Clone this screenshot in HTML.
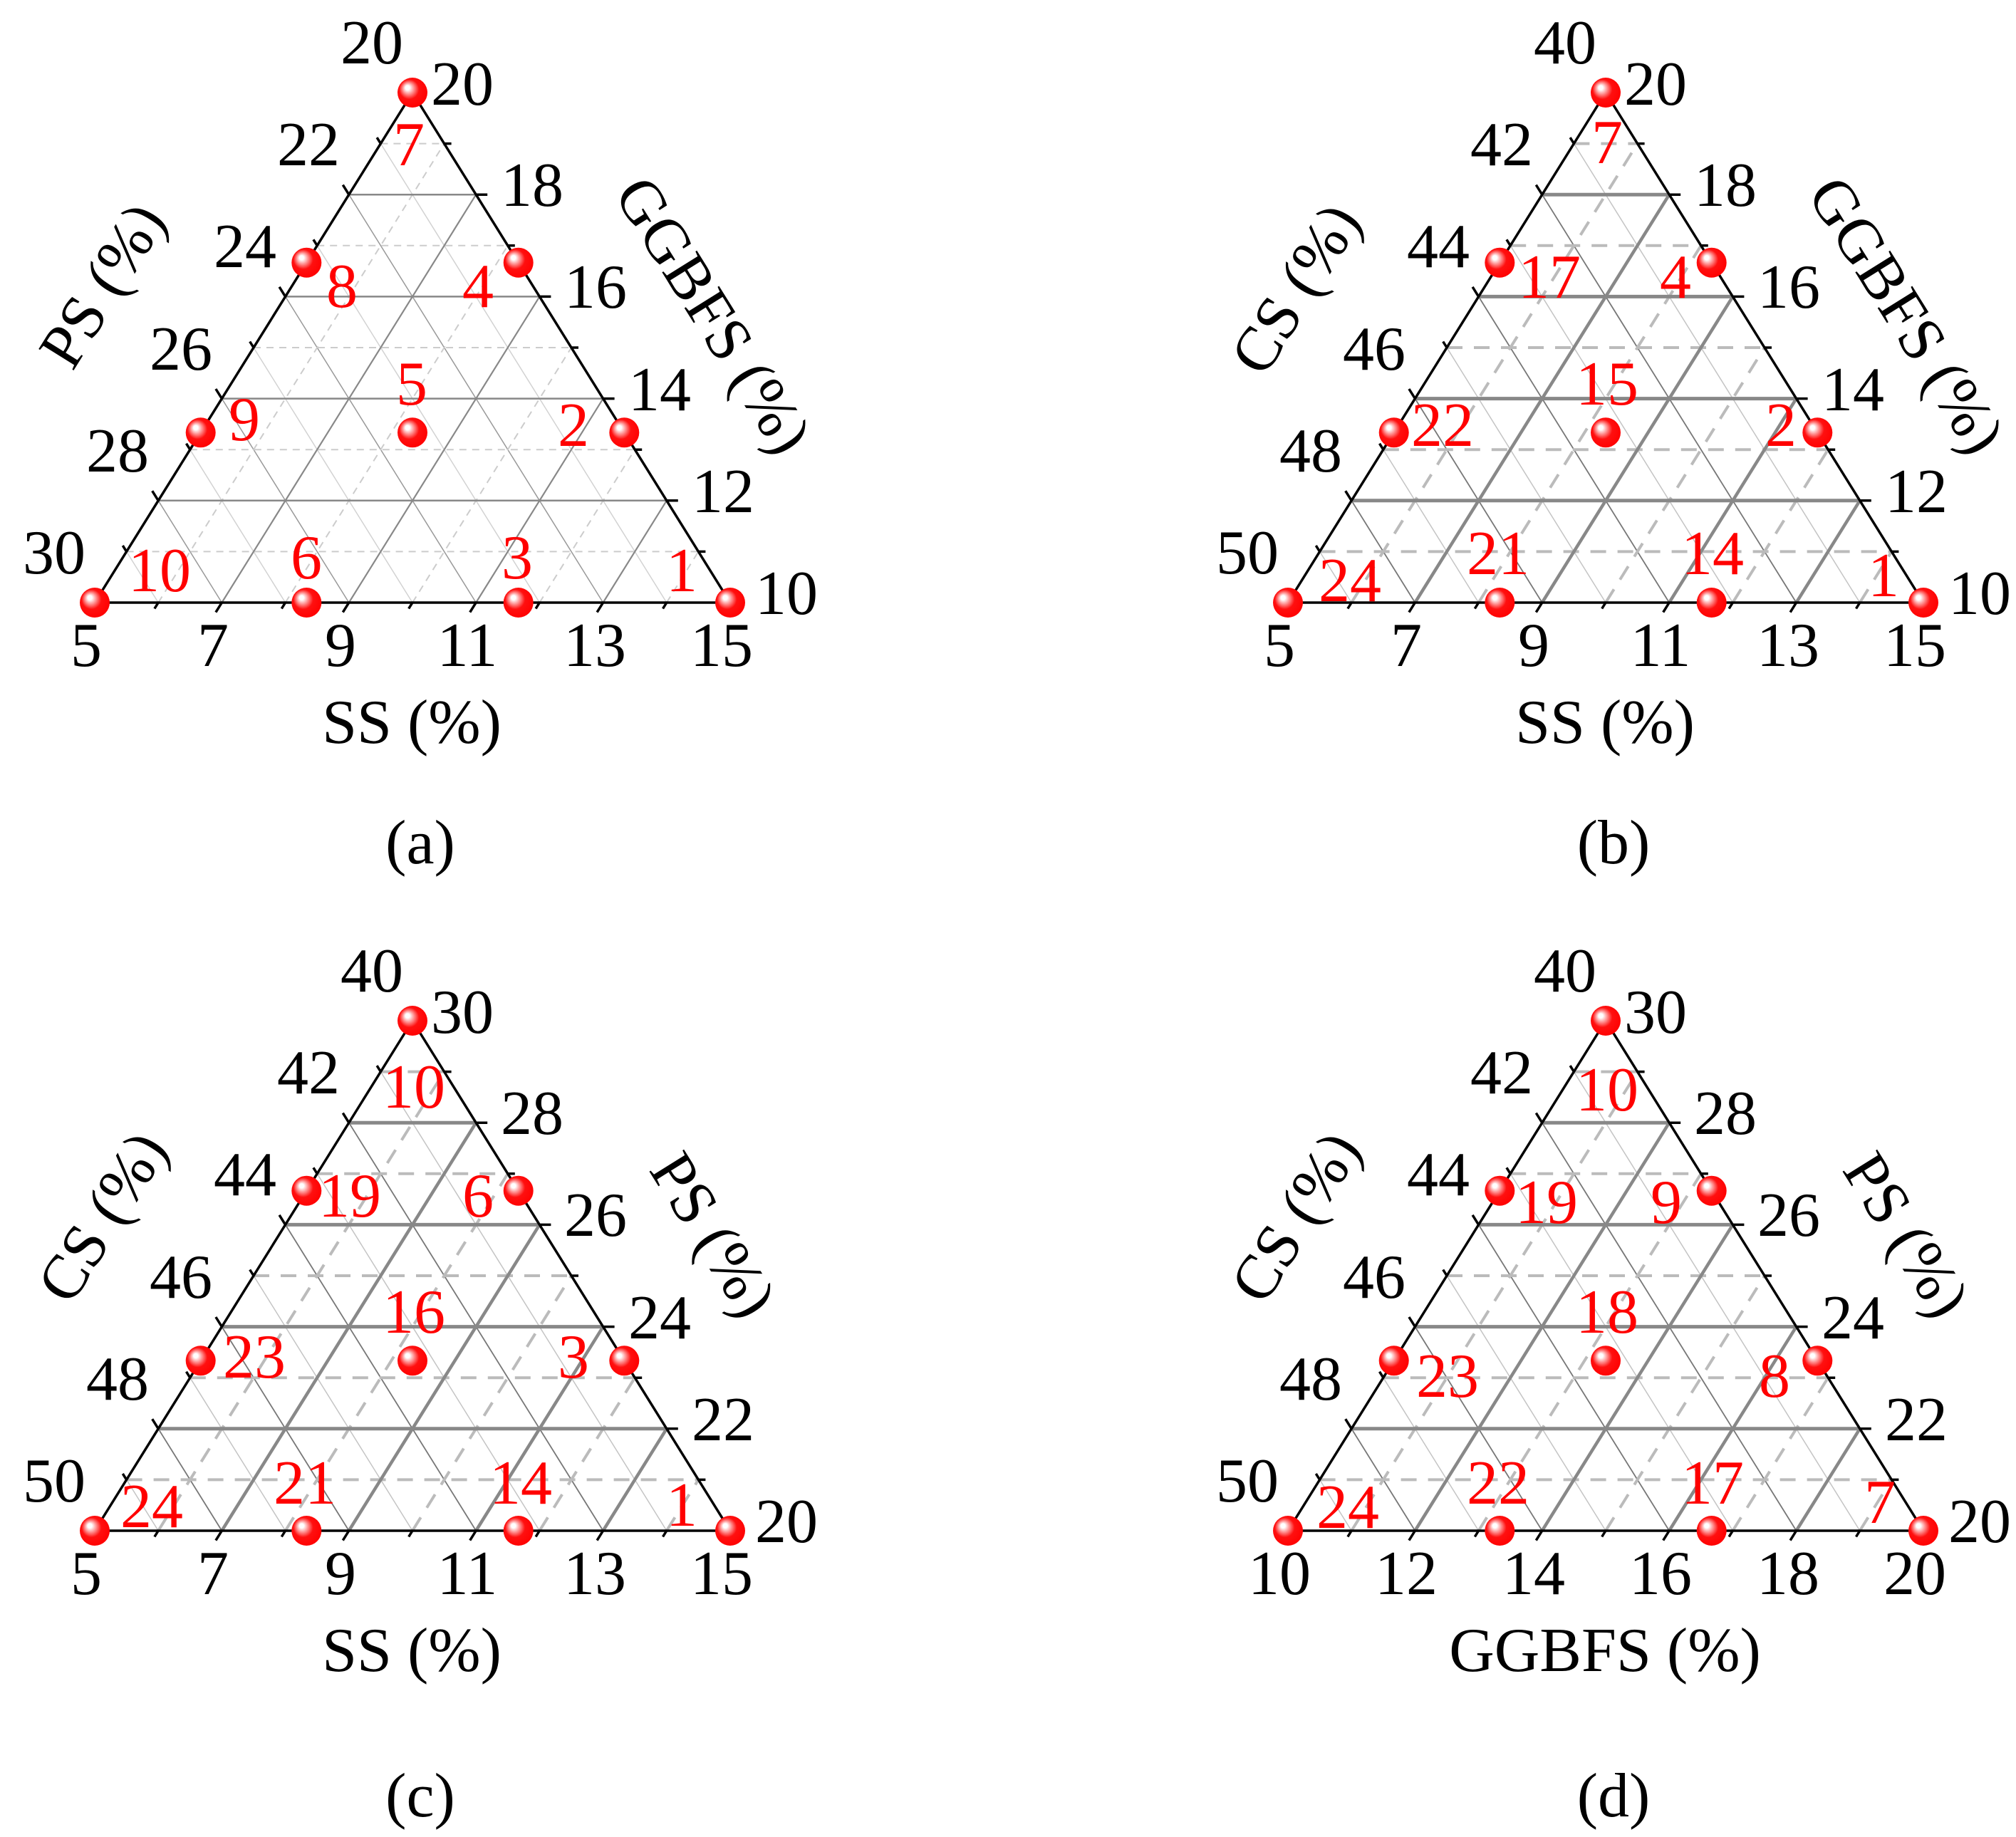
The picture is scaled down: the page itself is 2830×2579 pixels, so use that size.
<!DOCTYPE html>
<html><head><meta charset="utf-8"><style>
html,body{margin:0;padding:0;background:#fff;}
svg{display:block;}
text{font-family:"Liberation Serif",serif;font-size:88px;fill:#000;}
.r{fill:#f00;text-anchor:middle;}
.e{text-anchor:end;}
.m{text-anchor:middle;}
</style></head><body>
<svg width="2830" height="2579" viewBox="0 0 2830 2579" xmlns="http://www.w3.org/2000/svg">
<defs>
<radialGradient id="ball" cx="0.45" cy="0.45" r="0.6" fx="0.32" fy="0.32">
<stop offset="0" stop-color="#fff"/>
<stop offset="0.12" stop-color="#fff"/>
<stop offset="0.3" stop-color="#ff9a9a"/>
<stop offset="0.55" stop-color="#ff1010"/>
<stop offset="1" stop-color="#f00"/>
</radialGradient>
<path id="hMaj" fill="none" d="M222.2 702.8H935.8M311.4 559.6H846.6M400.6 416.4H757.4M489.8 273.2H668.2"/>
<path id="hMin" fill="none" d="M177.6 774.4H980.4M266.8 631.2H891.2M356 488H802M445.2 344.8H712.8M534.4 201.6H623.6"/>
<path id="rMaj" fill="none" d="M311.4 846L668.2 273.2M489.8 846L757.4 416.4M668.2 846L846.6 559.6M846.6 846L935.8 702.8"/>
<path id="rMin" fill="none" d="M222.2 846L623.6 201.6M400.6 846L712.8 344.8M579 846L802 488M757.4 846L891.2 631.2M935.8 846L980.4 774.4"/>
<path id="lMaj" fill="none" d="M311.4 846L222.2 702.8M489.8 846L311.4 559.6M668.2 846L400.6 416.4M846.6 846L489.8 273.2"/>
<path id="lMin" fill="none" d="M222.2 846L177.6 774.4M400.6 846L266.8 631.2M579 846L356 488M757.4 846L445.2 344.8M935.8 846L534.4 201.6"/>
<g id="frame" fill="none" stroke="#000" stroke-width="3.5">
<path d="M133 846L1025 846L579 130Z"/>
<path d="M133 846l-8.5 13.6M311.4 846l-8.5 13.6M489.8 846l-8.5 13.6M668.2 846l-8.5 13.6M846.6 846l-8.5 13.6M1025 846l-8.5 13.6M222.2 846l-5.3 8.5M400.6 846l-5.3 8.5M579 846l-5.3 8.5M757.4 846l-5.3 8.5M935.8 846l-5.3 8.5"/>
<path d="M1025 846h16M935.8 702.8h16M846.6 559.6h16M757.4 416.4h16M668.2 273.2h16M579 130h16M980.4 774.4h10M891.2 631.2h10M802 488h10M712.8 344.8h10M623.6 201.6h10"/>
<path d="M133 846l-8.5 -13.6M222.2 702.8l-8.5 -13.6M311.4 559.6l-8.5 -13.6M400.6 416.4l-8.5 -13.6M489.8 273.2l-8.5 -13.6M579 130l-8.5 -13.6M177.6 774.4l-5.3 -8.5M266.8 631.2l-5.3 -8.5M356 488l-5.3 -8.5M445.2 344.8l-5.3 -8.5M534.4 201.6l-5.3 -8.5"/>
</g>
<g id="gridB">
<use href="#lMin" stroke="#c4c4c4" stroke-width="1.5"/>
<use href="#lMaj" stroke="#777" stroke-width="1.8"/>
<use href="#hMin" stroke="#bbb" stroke-width="4" stroke-dasharray="22 16"/>
<use href="#rMin" stroke="#bbb" stroke-width="4" stroke-dasharray="22 16"/>
<use href="#hMaj" stroke="#888" stroke-width="5"/>
<use href="#rMaj" stroke="#888" stroke-width="4.5"/>
<use href="#frame"/>
</g>
<g id="dots" fill="url(#ball)">
<circle cx="579" cy="130" r="21"/><circle cx="133" cy="846" r="21"/><circle cx="1025" cy="846" r="21"/>
<circle cx="430.3" cy="368.7" r="21"/><circle cx="281.7" cy="607.3" r="21"/>
<circle cx="727.7" cy="368.7" r="21"/><circle cx="876.3" cy="607.3" r="21"/>
<circle cx="430.3" cy="846" r="21"/><circle cx="727.7" cy="846" r="21"/>
<circle cx="579" cy="607.3" r="21"/>
</g>
<g id="bottomSS">
<text class="m" x="121" y="935">5</text><text class="m" x="299" y="935">7</text><text class="m" x="478" y="935">9</text>
<text class="m" x="656" y="935">11</text><text class="m" x="835" y="935">13</text><text class="m" x="1013" y="935">15</text>
<text class="m" x="578" y="1043">SS (%)</text>
</g>
<g id="leftCS">
<text class="e" x="566" y="89">40</text><text class="e" x="477" y="232">42</text><text class="e" x="388" y="375">44</text>
<text class="e" x="298" y="519">46</text><text class="e" x="209" y="662">48</text><text class="e" x="120" y="805">50</text>
<text class="m" transform="translate(143 405) rotate(-58)" y="30">CS (%)</text>
</g>
<g id="rightPS">
<text x="605" y="147">30</text><text x="703" y="289">28</text><text x="792" y="432">26</text>
<text x="882" y="576">24</text><text x="971" y="719">22</text><text x="1060" y="862">20</text>
<text class="m" transform="translate(1002 430) rotate(58)" y="30">PS (%)</text>
</g>
<g id="rightGG">
<text x="605" y="147">20</text><text x="703" y="289">18</text><text x="792" y="432">16</text>
<text x="882" y="576">14</text><text x="971" y="719">12</text><text x="1060" y="862">10</text>
<text class="m" transform="translate(1002 442) rotate(58)" y="30">GGBFS (%)</text>
</g>
</defs>

<!-- Panel (a) -->
<g>
<use href="#lMin" stroke="#d2d2d2" stroke-width="1.5"/>
<use href="#lMaj" stroke="#999" stroke-width="1.5"/>
<use href="#hMin" stroke="#ccc" stroke-width="2" stroke-dasharray="10 8"/>
<use href="#rMin" stroke="#ccc" stroke-width="2" stroke-dasharray="10 8"/>
<use href="#hMaj" stroke="#888" stroke-width="2.5"/>
<use href="#rMaj" stroke="#888" stroke-width="2.2"/>
<use href="#frame"/>
<use href="#dots"/>
<use href="#bottomSS"/>
<use href="#rightGG"/>
<text class="e" x="566" y="89">20</text><text class="e" x="477" y="232">22</text><text class="e" x="388" y="375">24</text>
<text class="e" x="298" y="519">26</text><text class="e" x="209" y="662">28</text><text class="e" x="120" y="805">30</text>
<text class="m" transform="translate(143 400) rotate(-58)" y="30">PS (%)</text>
<text class="r" x="574" y="232">7</text><text class="r" x="480" y="431">8</text><text class="r" x="671" y="431">4</text>
<text class="r" x="578" y="568">5</text><text class="r" x="343" y="618">9</text><text class="r" x="805" y="626">2</text>
<text class="r" x="224" y="830">10</text><text class="r" x="430" y="812">6</text><text class="r" x="726" y="812">3</text>
<text class="r" x="957" y="830">1</text>
<text class="m" x="590" y="1212">(a)</text>
</g>

<!-- Panel (b) -->
<g transform="translate(1675 0)">
<use href="#gridB"/>
<use href="#dots"/>
<use href="#bottomSS"/>
<use href="#rightGG"/>
<use href="#leftCS"/>
<text class="r" x="581" y="229">7</text><text class="r" x="500" y="418">17</text><text class="r" x="677" y="418">4</text>
<text class="r" x="581" y="568">15</text><text class="r" x="350" y="626">22</text><text class="r" x="825" y="626">2</text>
<text class="r" x="220" y="844">24</text><text class="r" x="428" y="806">21</text><text class="r" x="729" y="806">14</text>
<text class="r" x="969" y="837">1</text>
<text class="m" x="590" y="1212">(b)</text>
</g>

<!-- Panel (c) -->
<g transform="translate(0 1303)">
<use href="#gridB"/>
<use href="#dots"/>
<use href="#bottomSS"/>
<use href="#rightPS"/>
<use href="#leftCS"/>
<text class="r" x="581" y="252">10</text><text class="r" x="491" y="405">19</text><text class="r" x="671" y="405">6</text>
<text class="r" x="581" y="568">16</text><text class="r" x="357" y="631">23</text><text class="r" x="805" y="631">3</text>
<text class="r" x="213" y="841">24</text><text class="r" x="428" y="808">21</text><text class="r" x="731" y="808">14</text>
<text class="r" x="957" y="839">1</text>
<text class="m" x="590" y="1247">(c)</text>
</g>

<!-- Panel (d) -->
<g transform="translate(1675 1303)">
<use href="#gridB"/>
<use href="#dots"/>
<use href="#rightPS"/>
<use href="#leftCS"/>
<text class="m" x="121" y="935">10</text><text class="m" x="299" y="935">12</text><text class="m" x="478" y="935">14</text>
<text class="m" x="656" y="935">16</text><text class="m" x="835" y="935">18</text><text class="m" x="1013" y="935">20</text>
<text class="m" x="578" y="1043">GGBFS (%)</text>
<text class="r" x="581" y="256">10</text><text class="r" x="496" y="414">19</text><text class="r" x="664" y="414">9</text>
<text class="r" x="581" y="568">18</text><text class="r" x="357" y="658">23</text><text class="r" x="816" y="658">8</text>
<text class="r" x="217" y="842">24</text><text class="r" x="428" y="808">22</text><text class="r" x="729" y="808">17</text>
<text class="r" x="964" y="835">7</text>
<text class="m" x="590" y="1247">(d)</text>
</g>
</svg>
</body></html>
